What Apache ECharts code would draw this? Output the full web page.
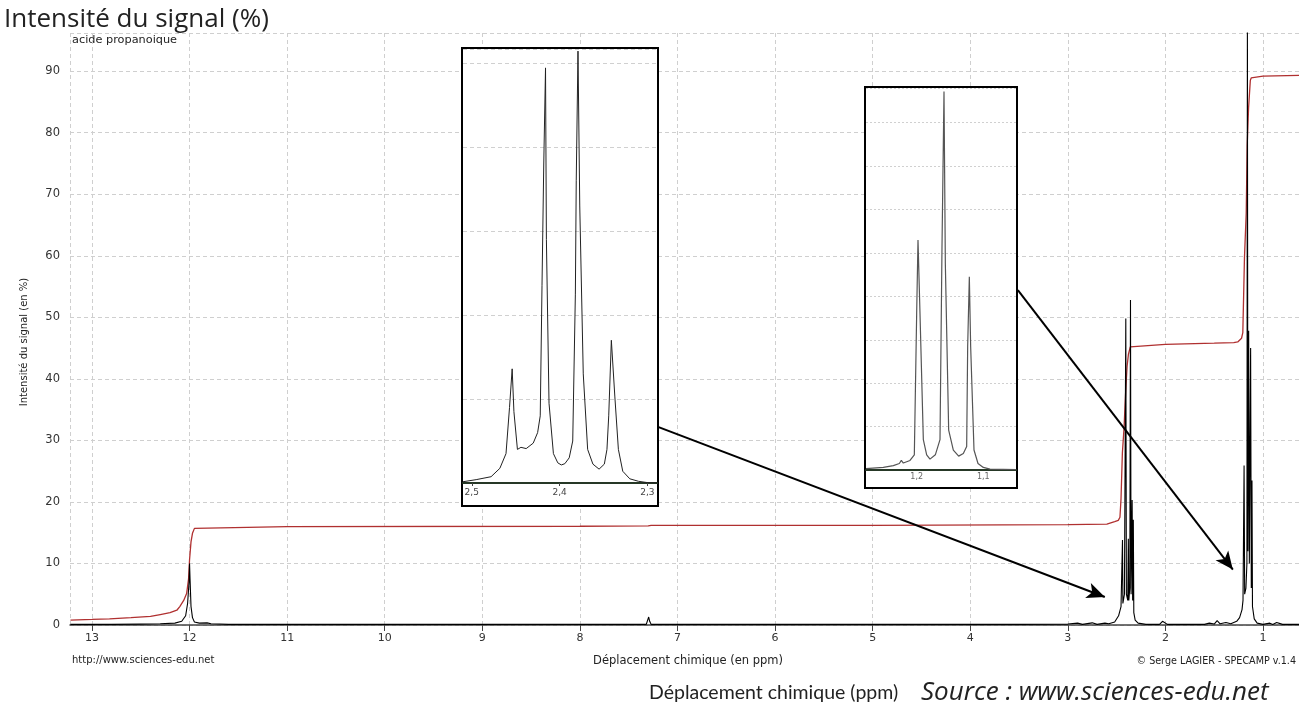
<!DOCTYPE html>
<html>
<head>
<meta charset="utf-8">
<script src="https://cdn.jsdelivr.net/npm/echarts@6/dist/echarts.min.js"></script>
<style>
html,body{margin:0;padding:0;background:#fff;}
#c{width:1299px;height:708px;}
</style>
</head>
<body>
<div id="c"></div>
<script>
// ---- data (ppm, intensity %) ----
const spectrum = [
  [13.22,0.1],[12.8,0.1],[12.5,0.15],[12.3,0.2],[12.15,0.3],[12.08,0.6],[12.04,1.5],[12.02,3.5],[12.005,7],[12.0,10],
  [11.995,7.5],[11.985,3],[11.97,1.2],[11.95,0.5],[11.9,0.3],[11.82,0.35],[11.78,0.2],[11.6,0.1],[10.5,0.1],[9.5,0.1],
  [8.0,0.1],[7.32,0.1],[7.30,0.4],[7.295,1.3],[7.285,0.6],[7.27,0.1],[5.0,0.1],[3.5,0.1],[3.0,0.15],[2.9,0.3],
  [2.85,0.1],[2.75,0.35],[2.7,0.1],[2.62,0.3],[2.58,0.2],[2.52,0.5],[2.48,1.5],[2.455,3],[2.44,13.8],[2.436,3.5],
  [2.42,5],[2.406,49.8],[2.40,5],[2.386,4],[2.38,14],[2.375,4],[2.365,6],[2.358,52.8],[2.352,5],[2.341,20.3],
  [2.336,4],[2.329,17.1],[2.324,2],[2.31,0.8],[2.28,0.3],[2.2,0.1],[2.06,0.1],[2.03,0.6],[2.01,0.3],[1.98,0.1],
  [1.6,0.1],[1.55,0.3],[1.5,0.15],[1.47,0.7],[1.44,0.2],[1.38,0.4],[1.33,0.2],[1.27,0.6],[1.24,1.2],[1.215,2.5],
  [1.205,4],[1.194,25.9],[1.188,5],[1.175,6],[1.165,10],[1.160,98],[1.155,12],[1.147,47.8],[1.14,10],[1.127,45],
  [1.12,6],[1.113,23.5],[1.108,3],[1.09,1],[1.06,0.3],[1.0,0.1],[0.93,0.3],[0.9,0.1],[0.86,0.4],[0.8,0.1],[0.63,0.1]
];
const integral = [
  [13.22,0.8],[13.0,0.9],[12.82,1.0],[12.6,1.2],[12.4,1.4],[12.3,1.7],[12.2,2.0],[12.13,2.4],[12.1,3.0],[12.06,4.0],
  [12.03,5.1],[12.01,7.5],[12.0,10.6],[11.985,13.5],[11.97,14.9],[11.95,15.7],[11.93,16.0],[11.0,16.0],[8.0,16.05],[7.3,16.1],
  [7.27,16.2],[5.0,16.2],[3.0,16.3],[2.6,16.4],[2.52,16.8],[2.483,17.0],[2.466,17.5],[2.455,20.5],[2.441,28],[2.424,32],
  [2.407,38],[2.393,42],[2.379,44],[2.36,45.2],[2.345,45.5],[2.0,45.6],[1.5,45.8],[1.3,45.9],[1.259,46.0],[1.22,46.6],
  [1.207,47.5],[1.19,59.7],[1.172,67],[1.162,78],[1.148,84],[1.13,88.5],[1.121,88.9],[1.0,89.2],[0.63,89.3]
];
// zoom of the quartet (ppm, relative intensity)
const quartet = [
  [2.510,0.3],[2.495,0.8],[2.478,1.5],[2.468,3.5],[2.461,7],[2.457,18],[2.454,27.2],[2.452,17],[2.448,8],[2.444,8.5],
  [2.438,8.2],[2.430,9.5],[2.425,12],[2.422,16],[2.420,47],[2.418,76],[2.416,98.9],[2.415,58],[2.412,19],[2.407,7],
  [2.402,4.8],[2.398,4.3],[2.394,4.6],[2.389,6],[2.385,10],[2.382,45],[2.381,72],[2.379,102.9],[2.377,66],[2.373,26],
  [2.368,8],[2.362,4.5],[2.355,3.3],[2.349,4.5],[2.346,8],[2.344,16],[2.341,34],[2.337,20.5],[2.333,8],[2.328,2.8],
  [2.32,1.0],[2.31,0.4],[2.3,0.1],[2.289,0]
];
// zoom of the triplet
const triplet = [
  [1.276,0.3],[1.25,0.6],[1.235,1.0],[1.226,1.5],[1.223,2.2],[1.220,1.6],[1.21,2.2],[1.2035,3.5],[1.200,36],[1.198,53],
  [1.195,36],[1.190,7],[1.185,3.5],[1.180,2.5],[1.172,3.5],[1.165,7],[1.162,51.5],[1.159,87.2],[1.157,47.6],[1.152,9.2],
  [1.145,4.6],[1.137,3.2],[1.13,3.8],[1.125,5.4],[1.1235,28.4],[1.121,44.5],[1.119,28.4],[1.114,4.6],[1.108,1.5],[1.10,0.6],
  [1.09,0.2],[1.051,0.1]
];
const quartetTicks = [2.3, 2.4, 2.5];
const tripletTicks = [1.1, 1.2];
const quartetGreen = 2.3;
const tripletGreen = 1.07;
// arrows from insets to the signals [start, end] in (ppm, %)
const arrows = [
  [[7.2, 32.2], [2.621, 4.55]],
  [[3.512, 54.4], [1.309, 9.0]]
];

const fmtComma = v => (Math.round(v*10)/10).toFixed(1).replace('.', ',');
const tickFont = 'DejaVu Sans';

const chart = echarts.init(document.getElementById('c'), null, {renderer:'canvas'});
const option = {
  animation: false,
  backgroundColor: '#fff',
  grid: [
    {left: 70, top: 33, width: 1290.6, height: 592, outerBoundsMode: 'none', containLabel: false},
    {left: 463, top: 49, width: 194, height: 434, outerBoundsMode: 'none', containLabel: false},
    {left: 866, top: 88, width: 150, height: 382, outerBoundsMode: 'none', containLabel: false}
  ],
  xAxis: [
    {gridIndex: 0, type: 'value', inverse: true, min: 0, max: 13.225, interval: 1,
     axisLine: {show: true, onZero: false, lineStyle: {color: '#444', width: 1.5}},
     axisTick: {show: true, length: 6, lineStyle: {color: '#444'}},
     axisLabel: {color: '#333', fontSize: 11, fontFamily: tickFont, margin: 8, showMaxLabel: false},
     splitLine: {show: true, lineStyle: {color: '#cfcfcf', type: [4,3], width: 1}}},
    {gridIndex: 1, type: 'value', inverse: true, min: 2.289, max: 2.510, zlevel: 2,
     axisLine: {show: true, onZero: false, lineStyle: {color: '#263826', width: 2}},
     axisTick: {show: true, length: 3, customValues: quartetTicks, lineStyle: {color: '#444'}},
     axisLabel: {color: '#444', fontSize: 9, fontFamily: tickFont, margin: 5, customValues: quartetTicks, formatter: fmtComma},
     splitLine: {show: false}},
    {gridIndex: 2, type: 'value', inverse: true, min: 1.051, max: 1.276, zlevel: 2,
     axisLine: {show: true, onZero: false, lineStyle: {color: '#263826', width: 2}},
     axisTick: {show: false, customValues: tripletTicks},
     axisLabel: {color: '#666', fontSize: 8, fontFamily: tickFont, margin: 3, customValues: tripletTicks, formatter: fmtComma},
     splitLine: {show: false}}
  ],
  yAxis: [
    {gridIndex: 0, type: 'value', min: 0, max: 96.2, interval: 10,
     axisLine: {show: true, lineStyle: {color: '#555', width: 2}},
     axisTick: {show: true, length: 8, lineStyle: {color: '#555'}},
     axisLabel: {color: '#333', fontSize: 11.5, fontFamily: tickFont, margin: 10, showMaxLabel: false},
     splitLine: {show: true, lineStyle: {color: '#cfcfcf', type: [4,3], width: 1}}},
    {gridIndex: 1, type: 'value', min: 0, max: 103.4, interval: 20, zlevel: 2,
     axisLine: {show: false}, axisTick: {show: false}, axisLabel: {show: false},
     splitLine: {show: true, lineStyle: {color: '#d0d0d0', type: [4,3], width: 1}}},
    {gridIndex: 2, type: 'value', min: 0, max: 88, interval: 10, zlevel: 2,
     axisLine: {show: false}, axisTick: {show: false}, axisLabel: {show: false},
     splitLine: {show: true, lineStyle: {color: '#d0d0d0', type: [2,2], width: 1}}}
  ],
  series: [
    {name: 'integral', type: 'line', xAxisIndex: 0, yAxisIndex: 0, data: integral,
     showSymbol: false, symbol: 'none', lineStyle: {color: '#b03030', width: 1.3}, z: 3},
    {name: 'spectrum', type: 'line', xAxisIndex: 0, yAxisIndex: 0, data: spectrum,
     showSymbol: false, symbol: 'none', lineStyle: {color: '#000', width: 1.1}, z: 4,
     markLine: {silent: true, symbol: ['none', 'arrow'], symbolSize: [12, 18], label: {show: false},
       lineStyle: {color: '#000', width: 2, type: 'solid'},
       data: arrows.map(a => [{coord: a[0]}, {coord: a[1]}])}},
    {name: 'quartet', type: 'line', xAxisIndex: 1, yAxisIndex: 1, data: quartet, zlevel: 2,
     showSymbol: false, symbol: 'none', lineStyle: {color: '#222', width: 1}, z: 4,
     markLine: {silent: true, symbol: 'none', label: {show: false},
       data: [
         {xAxis: quartetTicks[2], lineStyle: {color: '#cfcfcf', type: [4,3], width: 1}},
         {xAxis: quartetTicks[1], lineStyle: {color: '#cfcfcf', type: [4,3], width: 1}},
         {xAxis: quartetGreen, lineStyle: {color: '#6cc46c', type: [2,2], width: 1.5}}
       ]}},
    {name: 'triplet', type: 'line', xAxisIndex: 2, yAxisIndex: 2, data: triplet, zlevel: 2,
     showSymbol: false, symbol: 'none', lineStyle: {color: '#555', width: 1.2}, z: 4,
     markLine: {silent: true, symbol: 'none', label: {show: false},
       data: [
         {xAxis: tripletTicks[1], lineStyle: {color: '#d0d0d0', type: [2,2], width: 1}},
         {xAxis: tripletTicks[0], lineStyle: {color: '#d0d0d0', type: [2,2], width: 1}},
         {xAxis: tripletGreen, lineStyle: {color: '#7fd07f', type: [2,2], width: 1.2}}
       ]}}
  ],
  graphic: [
    {type: 'rect', zlevel: 1, z: 0, shape: {x: 462, y: 48, width: 196, height: 458},
     style: {fill: '#fff', stroke: '#000', lineWidth: 2}},
    {type: 'rect', zlevel: 1, z: 0, shape: {x: 865, y: 87, width: 152, height: 401},
     style: {fill: '#fff', stroke: '#000', lineWidth: 2}},
    {type: 'text', x: 4, y: 20, style: {text: 'Intensité du signal (%)', font: '26px "Open Sans"', fill: '#222', verticalAlign: 'middle'}},
    {type: 'text', left: 72, top: 35, style: {text: 'acide propanoique', font: '11.3px "DejaVu Sans"', fill: '#222'}},
    {type: 'text', left: 72, top: 655, style: {text: 'http://www.sciences-edu.net', font: '10px "DejaVu Sans"', fill: '#222'}},
    {type: 'text', x: 688, y: 661, style: {text: 'Déplacement chimique (en ppm)', font: '11.5px "DejaVu Sans"', fill: '#222', align: 'center', verticalAlign: 'middle'}},
    {type: 'text', x: 1296, y: 661, style: {text: '© Serge LAGIER - SPECAMP v.1.4', font: '9.6px "DejaVu Sans"', fill: '#222', align: 'right', verticalAlign: 'middle'}},
    {type: 'text', x: 24, y: 342, rotation: Math.PI/2, style: {text: 'Intensité du signal (en %)', font: '10px "DejaVu Sans"', fill: '#222', align: 'center', verticalAlign: 'middle'}},
    {type: 'text', x: 649, y: 693, style: {text: 'Déplacement chimique (ppm)', font: '19.5px Lato', fill: '#222', verticalAlign: 'middle'}},
    {type: 'text', x: 921, y: 693, style: {text: 'Source : www.sciences-edu.net', font: 'italic 26px "Open Sans"', fill: '#222', verticalAlign: 'middle'}}
  ]
};
chart.setOption(option);
</script>
</body>
</html>
